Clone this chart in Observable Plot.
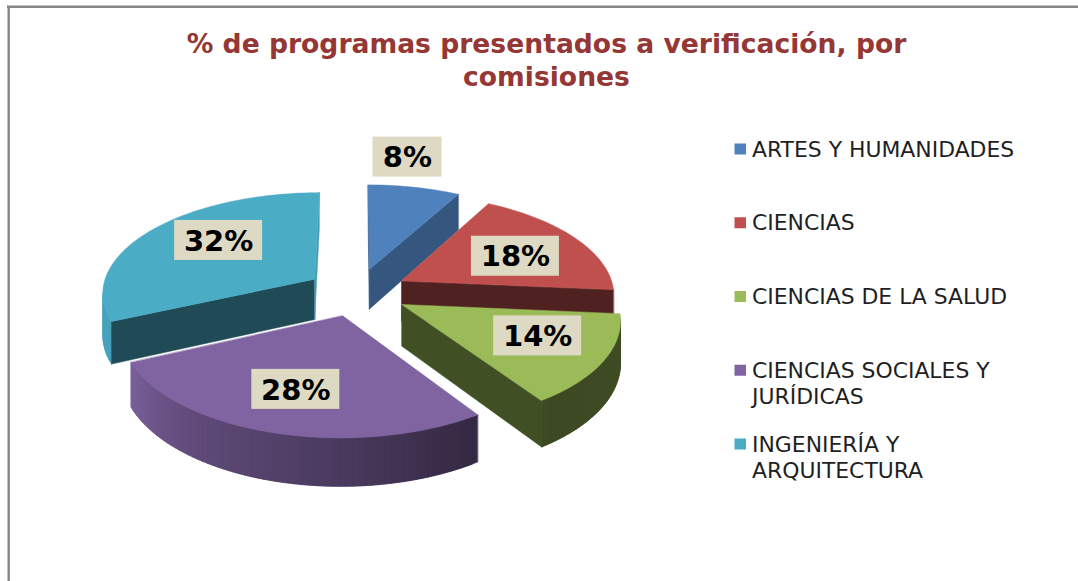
<!DOCTYPE html>
<html><head><meta charset="utf-8">
<style>html,body{margin:0;padding:0;background:#fff;overflow:hidden}svg{display:block}</style>
<script src="https://cdn.jsdelivr.net/npm/d3@7"></script>
<script src="https://cdn.jsdelivr.net/npm/@observablehq/plot@0.6"></script>
</head><body>
<div id="chart"></div>
<script>
const titleLines = ["% de programas presentados a verificación, por", "comisiones"];
const categories = ["ARTES Y HUMANIDADES", "CIENCIAS", "CIENCIAS DE LA SALUD", "CIENCIAS SOCIALES Y\nJURÍDICAS", "INGENIERÍA Y\nARQUITECTURA"];
const percents = [8, 18.4, 14.2, 27.6, 31.8];
const colors = ["#4f81bd", "#c0504d", "#9bbb59", "#8064a2", "#4bacc6"];

// Perspective model of the exploded pie (layout, not data)
const W = 1078, H = 581;
const cx = 356.5, cy = 291.5, Rx = 213, Ry = 100.3, persp = 0.125, explode = 0.24, depth = 41;
const radialShade = [[0.67, 0.67], [0.41, 0.41], [0.42, 0.42], [0.4, 0.4], [0.43, 0.9]];
const arcShade = d3.scaleLinear().domain([90, 144, 180, 215, 245, 290]).range([0.42, 0.39, 0.58, 0.74, 0.95, 0.95]);
const labelFrac = [1.4, 0.6, 0.68, 0.66, 0.65];
const labelNudge = [[-22, -2], [8, 2], [1.5, -6], [-2.5, 0], [12, -6]];

const rad = d => d * Math.PI / 180;
const shade = (c, b) => { const k = d3.rgb(c); return d3.rgb(k.r * b, k.g * b, k.b * b).formatHex(); };
const project = (U, V, down = 0) => {
  const s = 1 / (1 - persp * V);
  return [cx + Rx * U * s, cy + Ry * V * s + depth * down * s];
};

const total = d3.sum(percents);
let acc = 0;
const slices = percents.map((p, i) => {
  const a0 = acc / total * 360; acc += p; const a1 = acc / total * 360; const mid = (a0 + a1) / 2;
  const eU = explode * Math.sin(rad(mid)), eV = -explode * Math.cos(rad(mid));
  const rim = (a, f = 1) => [eU + f * Math.sin(rad(a)), eV - f * Math.cos(rad(a))];
  return {i, p, a0, a1, mid, apex: [eU, eV], rim, color: colors[i], cat: categories[i]};
});

const polys = [];
const addPoly = (id, corners, fill) => corners.forEach(([x, y]) => polys.push({id, x, y, fill}));
const area = q => d3.sum(q, (p, i) => { const n = q[(i + 1) % q.length]; return p[0] * n[1] - n[0] * p[1]; });
const addWall = (id, A, B, fill) => {
  const q = [project(...A), project(...B), project(...B, 1), project(...A, 1)];
  if (area(q) < 0) addPoly(id, q, fill);
};
[0, 4, 1, 2, 3].forEach(i => {
  const s = slices[i];
  const n = Math.ceil((s.a1 - s.a0) / 1.5);
  const step = (s.a1 - s.a0) / n;
  const angles = d3.range(n + 1).map(k => s.a0 + step * k);
  // each arc segment overlaps the next one, so no seams show between them
  d3.pairs(angles).forEach(([a, b], k) => addWall(`a-${i}-${k}`, s.rim(a), s.rim(k < n - 1 ? b + step : b), shade(s.color, arcShade((a + b) / 2))));
  addWall(`r0-${i}`, s.apex, s.rim(s.a0), shade(s.color, radialShade[i][0]));
  addWall(`r1-${i}`, s.rim(s.a1), s.apex, shade(s.color, radialShade[i][1]));
  addPoly(`top-${i}`, [project(...s.apex), ...angles.map(a => project(...s.rim(a)))], s.color);
});

const labels = slices.map(s => {
  const [x, y] = project(...s.rim(s.mid, labelFrac[s.i]));
  const text = `${Math.round(s.p)}%`;
  const w = text.length === 2 ? 69 : 88;
  return {x: x + labelNudge[s.i][0], y: y + labelNudge[s.i][1], text, w};
});

const legendY = d3.scalePoint().domain(categories).range([149, 444]);
const legend = slices.map(s => ({cat: s.cat, color: s.color, y: legendY(s.cat)}));

const font = "'DejaVu Sans', Verdana, sans-serif";
const chart = Plot.plot({
  width: W, height: H, margin: 0,
  x: {domain: [0, W], range: [0, W], axis: null},
  y: {domain: [0, H], range: [0, H], axis: null},
  color: {type: "identity"},
  style: {background: "#fff", fontFamily: font},
  marks: [
    Plot.ruleX([8.2], {y1: 6, y2: H, stroke: "#858585", strokeWidth: 2.4}),
    Plot.ruleY([6.2], {x1: 7, x2: W, stroke: "#858585", strokeWidth: 2.4}),
    Plot.line(polys, {x: "x", y: "y", z: "id", fill: "fill", stroke: "fill", strokeWidth: 0.5, curve: "linear-closed"}),
    Plot.rect(labels, {x1: d => d.x - d.w / 2, x2: d => d.x + d.w / 2, y1: d => d.y - 20, y2: d => d.y + 20, fill: "#ddd9c3"}),
    Plot.text(labels, {x: "x", y: "y", text: "text", fontSize: 29, fontWeight: 700, fill: "#000", dy: 1}),
    Plot.text(titleLines, {x: () => 546, y: (d, i) => 44 + i * 33, text: d => d, fontSize: 26.6, fontWeight: 700, fill: "#953735"}),
    Plot.rect(legend, {x1: () => 734.5, x2: () => 746, y1: d => d.y - 5.5, y2: d => d.y + 5.5, fill: "color"}),
    Plot.text(legend, {x: () => 751.5, y: "y", text: "cat", textAnchor: "start", lineAnchor: "top", lineHeight: 1.19, dy: -11.5, fontSize: 21.9, fill: "#1f1f1f"})
  ]
});
document.getElementById("chart").appendChild(chart);
</script>
</body></html>
